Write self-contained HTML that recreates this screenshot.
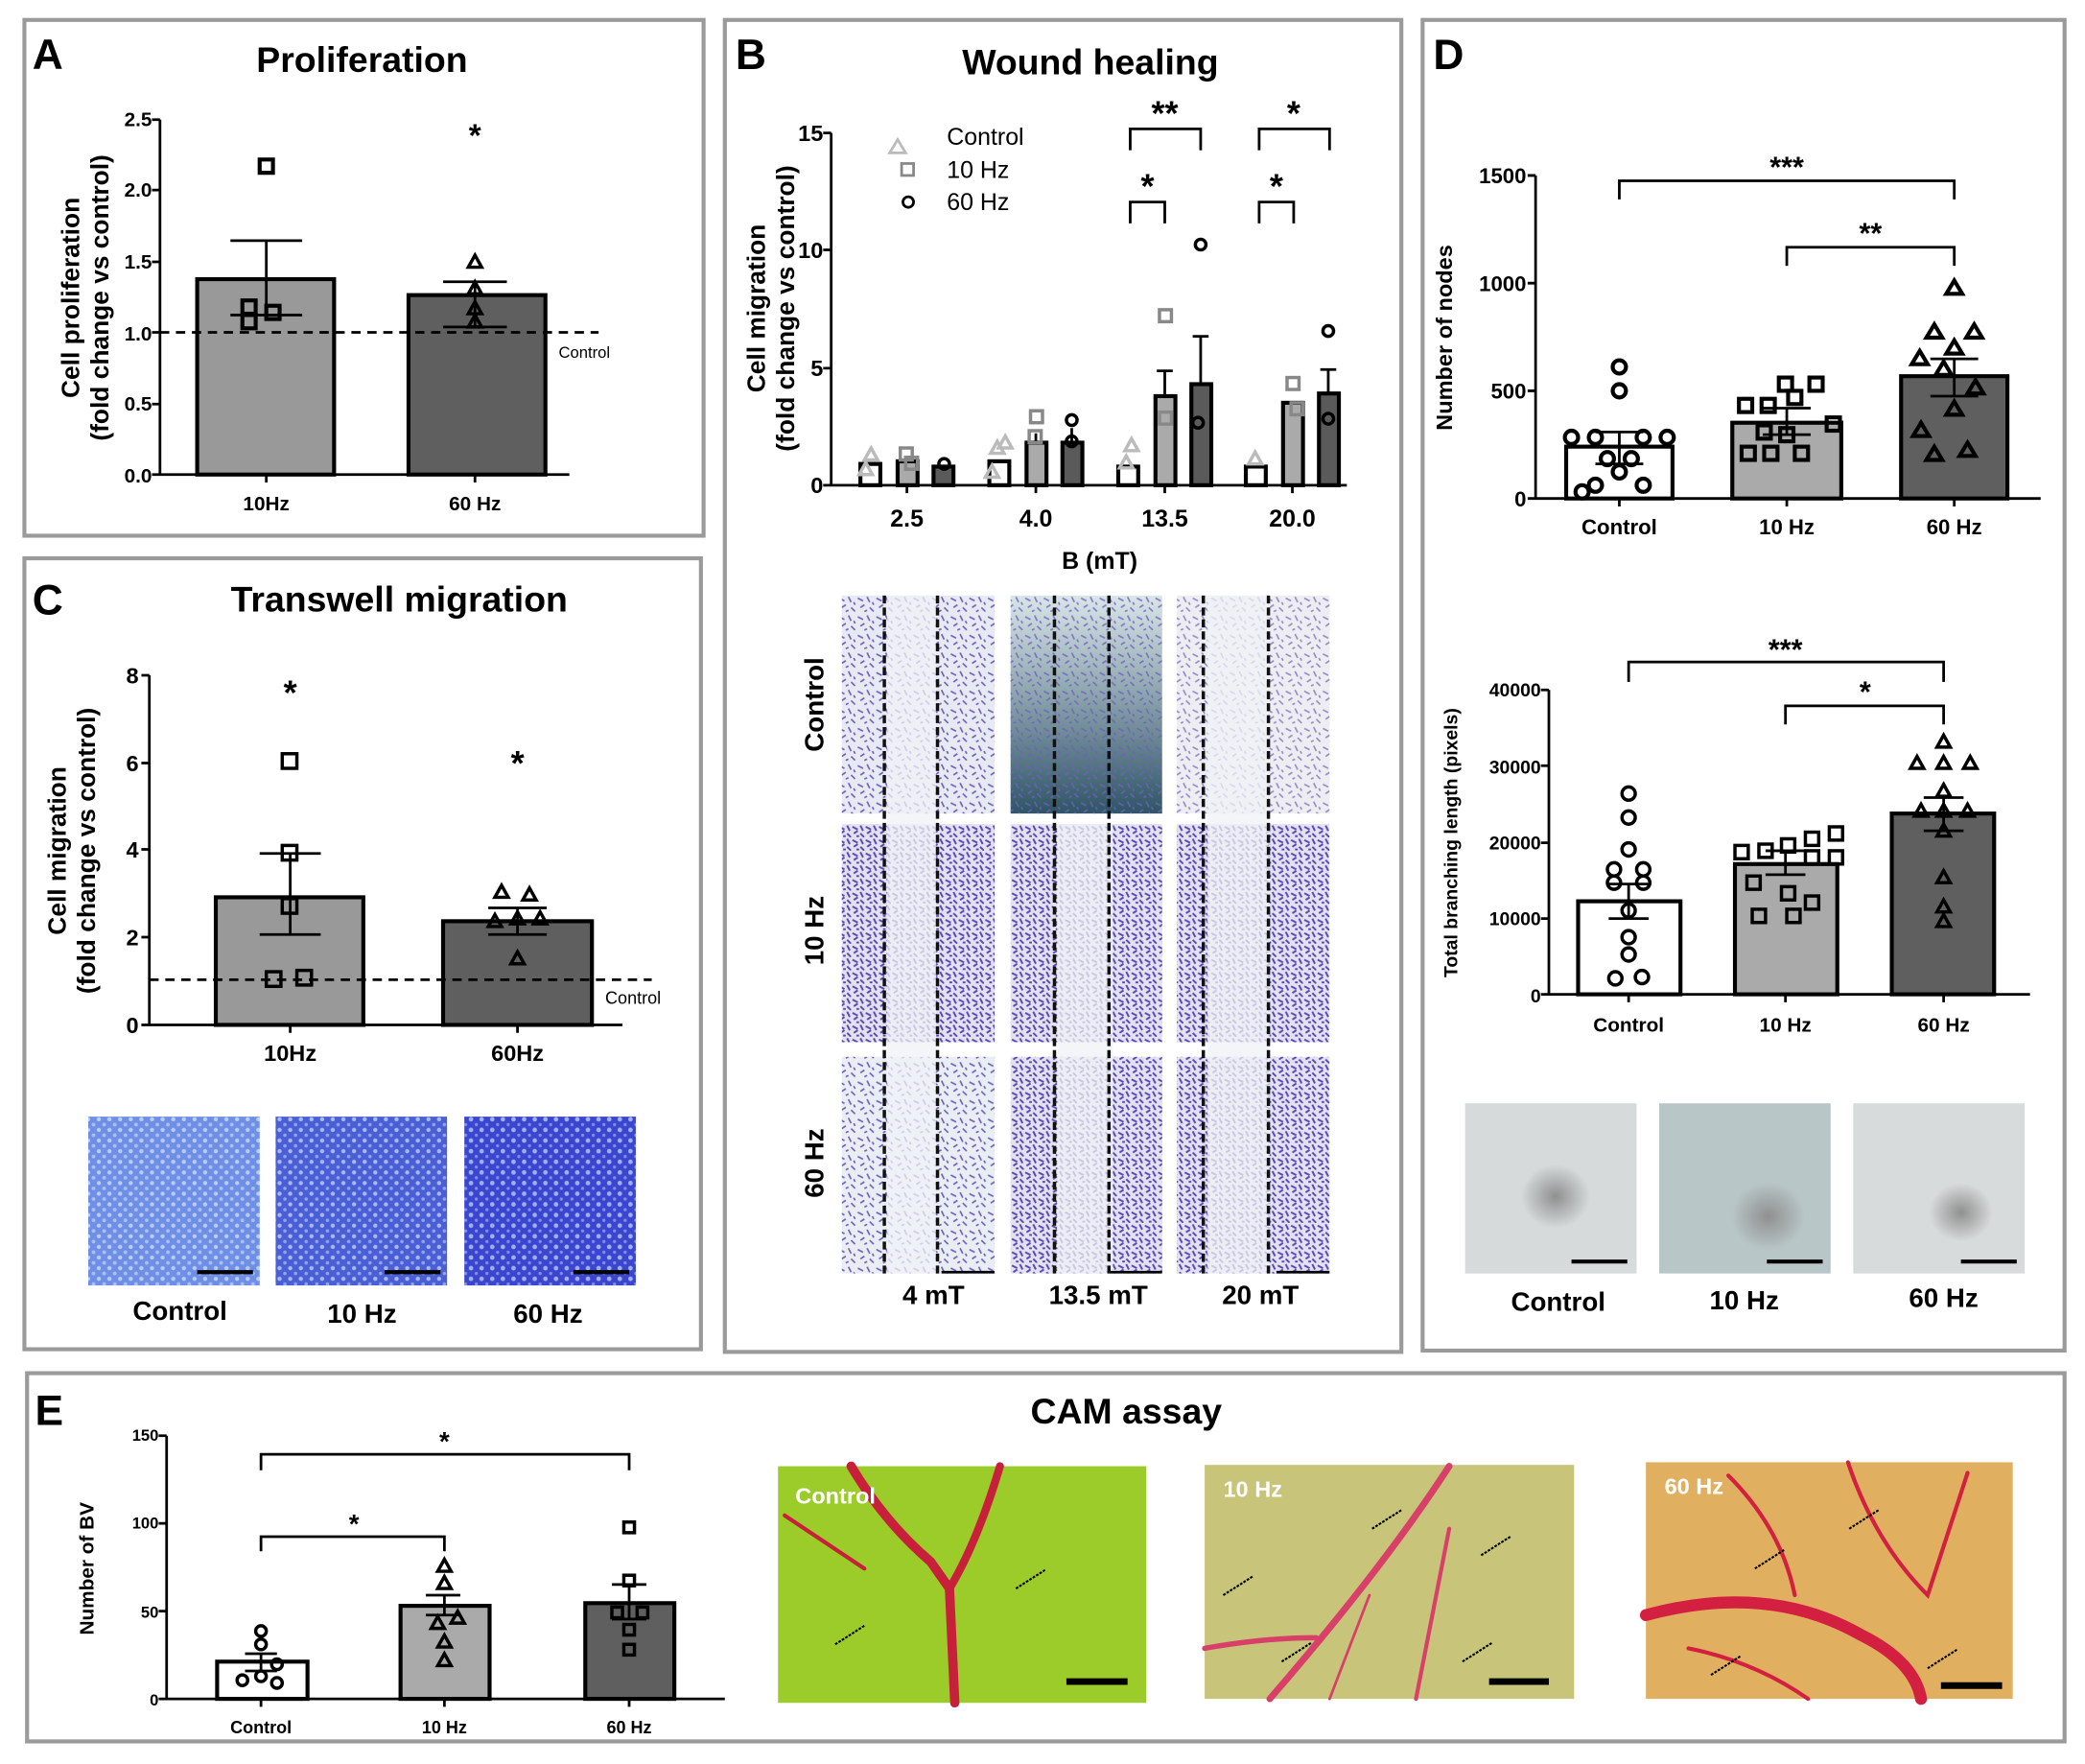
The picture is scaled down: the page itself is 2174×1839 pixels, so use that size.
<!DOCTYPE html>
<html><head><meta charset="utf-8"><style>
html,body{margin:0;padding:0;background:#fff}
svg{display:block}
text{font-family:"Liberation Sans",sans-serif}
</style></head><body>
<svg width="2174" height="1839" viewBox="0 0 1568 1327" xmlns="http://www.w3.org/2000/svg">
<defs>
<pattern id="cells" width="14" height="14" patternUnits="userSpaceOnUse">
<path d="M1 2l4 2M8 1l2 4M3 9l3-2M10 9l3 3M6 12l2-1M12 5l1 2" stroke="#6f5fc0" stroke-width="1.2"/>
</pattern>
<pattern id="cellsD" width="10" height="10" patternUnits="userSpaceOnUse">
<path d="M1 2l4 2M7 1l2 4M2 7l3-2M7 7l3 3M4 9l2 0" stroke="#5a46b8" stroke-width="1.4"/>
</pattern>
<pattern id="tw" width="8" height="8" patternUnits="userSpaceOnUse">
<rect width="8" height="8" fill="#6f8fe6"/><circle cx="2" cy="2" r="1.6" fill="#b8ccf6"/><circle cx="6" cy="6" r="1.4" fill="#a9c0f2"/>
</pattern>
<pattern id="tw2" width="8" height="8" patternUnits="userSpaceOnUse">
<rect width="8" height="8" fill="#4a5ed6"/><circle cx="2" cy="2" r="1.6" fill="#a9b8f0"/><circle cx="6" cy="6" r="1.3" fill="#8fa4ea"/>
</pattern>
<pattern id="tw3" width="8" height="8" patternUnits="userSpaceOnUse">
<rect width="8" height="8" fill="#3b45d0"/><circle cx="2" cy="2" r="1.7" fill="#9fb0ee"/><circle cx="6" cy="6" r="1.2" fill="#7f8fe6"/>
</pattern>
<radialGradient id="spot"><stop offset="0" stop-color="#8f9090"/><stop offset="1" stop-color="#8f9090" stop-opacity="0"/></radialGradient>
<linearGradient id="tealg" x1="0" y1="0" x2="0" y2="1"><stop offset="0" stop-color="#d9e6e8"/><stop offset="1" stop-color="#2f5566"/></linearGradient>
</defs>
<g fill="none" stroke="#9a9a9a" stroke-width="3">
<rect x="18" y="15" width="511" height="388"/>
<rect x="545" y="15" width="509" height="1002"/>
<rect x="18" y="420" width="509" height="595"/>
<rect x="1070" y="15" width="483" height="1001"/>
<rect x="20" y="1033" width="1533" height="277"/>
</g>

<!-- PANEL A -->
<text x="24" y="52" font-size="32" font-weight="bold">A</text>
<text x="272" y="54" font-size="27" font-weight="bold" text-anchor="middle">Proliferation</text>
<g font-size="15" font-weight="bold" text-anchor="end">
<text x="114" y="95">2.5</text><text x="114" y="148">2.0</text><text x="114" y="202">1.5</text><text x="114" y="256">1.0</text><text x="114" y="309">0.5</text><text x="114" y="363">0.0</text>
</g>
<g transform="translate(68,224) rotate(-90)" font-size="19" font-weight="bold" text-anchor="middle"><text y="-9">Cell proliferation</text><text y="13">(fold change vs control)</text></g>
<rect x="148" y="210" width="103" height="147" fill="#999" stroke="#000" stroke-width="3"/>
<rect x="307" y="222" width="103" height="135" fill="#5f5f5f" stroke="#000" stroke-width="3"/>
<g stroke="#000" stroke-width="2" fill="none">
<path d="M120 90V357H428M114 90h6M114 143h6M114 197h6M114 250h6M114 304h6M114 357h6M200 357v6M357 357v6"/>
<path d="M200 181v56M173 181h54M173 237h54M357 212v34M333 212h48M333 246h48"/>
<rect x="195" y="120" width="10" height="10" stroke-width="3"/>
<rect x="182" y="226" width="10" height="10" stroke-width="3"/><rect x="200" y="230" width="10" height="10" stroke-width="3"/><rect x="182" y="237" width="10" height="10" stroke-width="3"/>
<path d="M357 192l5 9h-10z M357 212l5 9h-10z M357 227l5 9h-10z M357 237l5 9h-10z" stroke-width="2.5"/>
</g>
<path d="M120 250H450" stroke="#000" stroke-width="2" stroke-dasharray="7 5"/>
<text x="420" y="269" font-size="12">Control</text>
<text x="357" y="110" font-size="24" font-weight="bold" text-anchor="middle">*</text>
<g font-size="15" font-weight="bold" text-anchor="middle"><text x="200" y="384">10Hz</text><text x="357" y="384">60 Hz</text></g>

<!-- PANEL C -->
<text x="24" y="462" font-size="32" font-weight="bold">C</text>
<text x="300" y="460" font-size="27" font-weight="bold" text-anchor="middle">Transwell migration</text>
<g font-size="17" font-weight="bold" text-anchor="end">
<text x="104" y="514">8</text><text x="104" y="580">6</text><text x="104" y="645">4</text><text x="104" y="711">2</text><text x="104" y="777">0</text>
</g>
<g transform="translate(58,640) rotate(-90)" font-size="19" font-weight="bold" text-anchor="middle"><text y="-9">Cell migration</text><text y="13">(fold change vs control)</text></g>
<rect x="162" y="675" width="111" height="96" fill="#999" stroke="#000" stroke-width="3"/>
<rect x="333" y="693" width="112" height="78" fill="#5f5f5f" stroke="#000" stroke-width="3"/>
<g stroke="#000" stroke-width="2" fill="none">
<path d="M112 508V771H468M106 508h6M106 574h6M106 639h6M106 705h6M106 771h6M218 771v6M389 771v6"/>
<path d="M218 642v61M195 642h46M195 703h46M389 683v20M367 683h44M367 703h44"/>
<g stroke-width="2.5"><rect x="212" y="567" width="11" height="11"/><rect x="212" y="636" width="11" height="11"/><rect x="212" y="676" width="11" height="11"/><rect x="200" y="731" width="11" height="11"/><rect x="223" y="730" width="11" height="11"/>
<path d="M377 666l5 9h-10zM398 668l5 9h-10zM389 686l5 9h-10zM372 688l5 9h-10zM406 686l5 9h-10zM389 716l5 9h-10z"/></g>
</g>
<path d="M112 737H490" stroke="#000" stroke-width="2" stroke-dasharray="7 5"/>
<text x="455" y="755" font-size="13">Control</text>
<g font-size="26" font-weight="bold" text-anchor="middle"><text x="218" y="530">*</text><text x="389" y="583">*</text></g>
<g font-size="17" font-weight="bold" text-anchor="middle"><text x="218" y="798">10Hz</text><text x="389" y="798">60Hz</text></g>
<rect x="66" y="840" width="129" height="127" fill="url(#tw)"/>
<rect x="207" y="840" width="129" height="127" fill="url(#tw2)"/>
<rect x="349" y="840" width="129" height="127" fill="url(#tw3)"/>
<g stroke="#000" stroke-width="3"><path d="M148 957h42M289 957h42M431 957h42"/></g>
<g font-size="20" font-weight="bold" text-anchor="middle"><text x="135" y="993">Control</text><text x="272" y="995">10 Hz</text><text x="412" y="995">60 Hz</text></g>

<!-- PANEL B -->
<text x="553" y="52" font-size="32" font-weight="bold">B</text>
<text x="820" y="56" font-size="27" font-weight="bold" text-anchor="middle">Wound healing</text>
<g font-size="17" font-weight="bold" text-anchor="end">
<text x="619" y="106">15</text><text x="619" y="194">10</text><text x="619" y="283">5</text><text x="619" y="371">0</text>
</g>
<g transform="translate(584,232) rotate(-90)" font-size="19" font-weight="bold" text-anchor="middle"><text y="-9">Cell migration</text><text y="13">(fold change vs control)</text></g>
<g stroke="#000" stroke-width="3">
<rect x="647" y="349" width="15" height="16" fill="#fff"/><rect x="675" y="347" width="15" height="18" fill="#aaa"/><rect x="702" y="351" width="15" height="14" fill="#5a5a5a"/>
<rect x="744" y="347" width="15" height="18" fill="#fff"/><rect x="772" y="333" width="15" height="32" fill="#aaa"/><rect x="799" y="333" width="15" height="32" fill="#5a5a5a"/>
<rect x="841" y="351" width="15" height="14" fill="#fff"/><rect x="869" y="298" width="15" height="67" fill="#aaa"/><rect x="896" y="289" width="15" height="76" fill="#5a5a5a"/>
<rect x="937" y="351" width="15" height="14" fill="#fff"/><rect x="965" y="303" width="15" height="62" fill="#aaa"/><rect x="992" y="296" width="15" height="69" fill="#5a5a5a"/>
</g>
<g stroke="#000" stroke-width="2" fill="none">
<path d="M625 100V365H1013M619 100h6M619 188h6M619 277h6M619 365h6M682 365v6M779 365v6M876 365v6M972 365v6"/>
<path d="M876 279v19M870 279h12M903 253v36M897 253h12M999 278v18M993 278h12M806 322v11M779 326v7"/>
<path d="M850 113V97H903V113M850 168V152H876V168M947 113V97H1000V113M947 168V152H973V168"/>
</g>
<g fill="none" stroke-width="2.5">
<g stroke="#bbb"><path d="M655 337l5 9h-10zM651 348l5 9h-10zM750 332l5 9h-10zM756 328l5 9h-10zM746 350l5 9h-10zM851 330l5 9h-10zM847 343l5 9h-10zM944 340l5 9h-10z"/>
<path d="M675 105l6 10h-12z" stroke-width="2"/></g>
<g stroke="#888"><rect x="677" y="337" width="9" height="9"/><rect x="681" y="344" width="9" height="9"/><rect x="775" y="309" width="9" height="9"/><rect x="774" y="324" width="9" height="9"/><rect x="872" y="233" width="9" height="9"/><rect x="872" y="310" width="9" height="9"/><rect x="968" y="284" width="9" height="9"/><rect x="971" y="303" width="9" height="9"/><rect x="678" y="123" width="9" height="9" stroke-width="2"/></g>
<g stroke="#000"><circle cx="710" cy="349" r="4"/><circle cx="806" cy="316" r="4"/><circle cx="806" cy="332" r="4"/><circle cx="903" cy="184" r="4"/><circle cx="901" cy="318" r="4"/><circle cx="999" cy="249" r="4"/><circle cx="999" cy="315" r="4"/><circle cx="683" cy="152" r="4" stroke-width="2"/></g>
</g>
<g font-size="18"><text x="712" y="109">Control</text><text x="712" y="134">10 Hz</text><text x="712" y="158">60 Hz</text></g>
<g font-size="26" font-weight="bold" text-anchor="middle"><text x="876" y="94">**</text><text x="863" y="149">*</text><text x="973" y="94">*</text><text x="960" y="149">*</text></g>
<g font-size="18" font-weight="bold" text-anchor="middle"><text x="682" y="396">2.5</text><text x="779" y="396">4.0</text><text x="876" y="396">13.5</text><text x="972" y="396">20.0</text><text x="827" y="428">B (mT)</text></g>
<g>
<rect x="633" y="448" width="115" height="164" fill="#e8eaf3"/><rect x="633" y="448" width="115" height="164" fill="url(#cells)"/>
<rect x="885" y="448" width="115" height="164" fill="#eeeef2"/><rect x="885" y="448" width="115" height="164" fill="url(#cells)" opacity=".7"/>
<rect x="633" y="620" width="115" height="164" fill="#e2e2f0"/><rect x="633" y="620" width="115" height="164" fill="url(#cellsD)"/>
<rect x="760" y="620" width="114" height="164" fill="#e2e2f0"/><rect x="760" y="620" width="114" height="164" fill="url(#cellsD)"/>
<rect x="885" y="620" width="115" height="164" fill="#e2e2f0"/><rect x="885" y="620" width="115" height="164" fill="url(#cellsD)"/>
<rect x="633" y="795" width="115" height="163" fill="#e8eef3"/><rect x="633" y="795" width="115" height="163" fill="url(#cells)"/>
<rect x="760" y="795" width="114" height="163" fill="#e2e2f0"/><rect x="760" y="795" width="114" height="163" fill="url(#cellsD)"/>
<rect x="885" y="795" width="115" height="163" fill="#e2e2f0"/><rect x="885" y="795" width="115" height="163" fill="url(#cellsD)"/>
<g fill="#f0f2f6" opacity=".75"><rect x="667" y="448" width="37" height="510"/><rect x="795" y="620" width="42" height="338"/><rect x="908" y="448" width="47" height="510"/></g>
<rect x="760" y="448" width="114" height="164" fill="url(#tealg)"/><rect x="760" y="448" width="114" height="164" fill="url(#cells)" opacity=".8"/>
<g stroke="#111" stroke-width="2.5" stroke-dasharray="6 3"><path d="M665 448V958M705 448V958M793 448V958M834 448V958M905 448V958M954 448V958"/></g>
<g stroke="#000" stroke-width="2"><path d="M708 957h40M835 957h39M960 957h40"/></g>
</g>
<g font-size="20" font-weight="bold" text-anchor="middle">
<text transform="translate(619,530) rotate(-90)">Control</text><text transform="translate(619,700) rotate(-90)">10 Hz</text><text transform="translate(619,875) rotate(-90)">60 Hz</text>
<text x="702" y="981">4 mT</text><text x="826" y="981">13.5 mT</text><text x="948" y="981">20 mT</text></g>

<!-- PANEL D -->
<text x="1078" y="52" font-size="32" font-weight="bold">D</text>
<g font-size="16" font-weight="bold" text-anchor="end">
<text x="1148" y="138">1500</text><text x="1148" y="219">1000</text><text x="1148" y="300">500</text><text x="1148" y="381">0</text>
</g>
<text transform="translate(1092,254) rotate(-90)" font-size="17" font-weight="bold" text-anchor="middle">Number of nodes</text>
<rect x="1178" y="336" width="80" height="39" fill="#fff" stroke="#000" stroke-width="3"/>
<rect x="1303" y="318" width="82" height="57" fill="#aaa" stroke="#000" stroke-width="3"/>
<rect x="1430" y="283" width="80" height="92" fill="#5f5f5f" stroke="#000" stroke-width="3"/>
<g stroke="#000" stroke-width="2" fill="none">
<path d="M1155 132V375H1535M1149 132h6M1149 213h6M1149 294h6M1149 375h6M1218 375v6M1344 375v6M1470 375v6"/>
<path d="M1218 150V136H1470V150M1344 200V186H1470V200"/>
<path d="M1218 325v24M1200 325h36M1200 349h36M1344 307v20M1326 307h36M1326 327h36M1470 270v28M1452 270h36M1452 298h36"/>
<g stroke-width="3"><circle cx="1218" cy="276" r="5"/><circle cx="1218" cy="294" r="5"/><circle cx="1182" cy="329" r="5"/><circle cx="1200" cy="329" r="5"/><circle cx="1236" cy="329" r="5"/><circle cx="1254" cy="329" r="5"/><circle cx="1209" cy="345" r="5"/><circle cx="1227" cy="345" r="5"/><circle cx="1218" cy="355" r="5"/><circle cx="1200" cy="365" r="5"/><circle cx="1236" cy="365" r="5"/><circle cx="1190" cy="370" r="5"/>
<rect x="1338" y="284" width="10" height="10"/><rect x="1361" y="284" width="10" height="10"/><rect x="1308" y="300" width="10" height="10"/><rect x="1325" y="300" width="10" height="10"/><rect x="1345" y="294" width="10" height="10"/><rect x="1374" y="314" width="10" height="10"/><rect x="1322" y="320" width="10" height="10"/><rect x="1339" y="322" width="10" height="10"/><rect x="1310" y="336" width="10" height="10"/><rect x="1327" y="336" width="10" height="10"/><rect x="1350" y="336" width="10" height="10"/>
<path d="M1470 211l6 10h-12zM1455 244l6 10h-12zM1485 244l6 10h-12zM1470 256l6 10h-12zM1444 264l6 10h-12zM1462 272l6 10h-12zM1486 286l6 10h-12zM1470 302l6 10h-12zM1445 318l6 10h-12zM1455 336l6 10h-12zM1480 333l6 10h-12z"/></g>
</g>
<g font-size="22" font-weight="bold" text-anchor="middle"><text x="1344" y="133">***</text><text x="1407" y="183">**</text></g>
<g font-size="16" font-weight="bold" text-anchor="middle"><text x="1218" y="402">Control</text><text x="1344" y="402">10 Hz</text><text x="1470" y="402">60 Hz</text></g>

<g font-size="14" font-weight="bold" text-anchor="end">
<text x="1159" y="524">40000</text><text x="1159" y="582">30000</text><text x="1159" y="639">20000</text><text x="1159" y="696">10000</text><text x="1159" y="754">0</text>
</g>
<text transform="translate(1096,634) rotate(-90)" font-size="14" font-weight="bold" text-anchor="middle">Total branching length (pixels)</text>
<rect x="1187" y="678" width="77" height="70" fill="#fff" stroke="#000" stroke-width="3"/>
<rect x="1305" y="650" width="77" height="98" fill="#aaa" stroke="#000" stroke-width="3"/>
<rect x="1423" y="612" width="77" height="136" fill="#5f5f5f" stroke="#000" stroke-width="3"/>
<g stroke="#000" stroke-width="2" fill="none">
<path d="M1165 519V748H1527M1159 519h6M1159 576h6M1159 634h6M1159 691h6M1159 748h6M1225 748v6M1343 748v6M1462 748v6"/>
<path d="M1225 513V498H1462V513M1343 545V531H1462V545"/>
<path d="M1225 665v26M1210 665h30M1210 691h30M1343 640v18M1328 640h30M1328 658h30M1462 600v25M1447 600h30M1447 625h30"/>
<g stroke-width="2.5"><circle cx="1225" cy="597" r="5"/><circle cx="1225" cy="615" r="5"/><circle cx="1225" cy="639" r="5"/><circle cx="1214" cy="654" r="5"/><circle cx="1236" cy="654" r="5"/><circle cx="1214" cy="664" r="5"/><circle cx="1236" cy="664" r="5"/><circle cx="1225" cy="685" r="5"/><circle cx="1225" cy="705" r="5"/><circle cx="1225" cy="718" r="5"/><circle cx="1215" cy="736" r="5"/><circle cx="1235" cy="735" r="5"/>
<rect x="1305" y="636" width="10" height="10"/><rect x="1323" y="635" width="10" height="10"/><rect x="1340" y="631" width="10" height="10"/><rect x="1358" y="626" width="10" height="10"/><rect x="1376" y="622" width="10" height="10"/><rect x="1358" y="640" width="10" height="10"/><rect x="1376" y="640" width="10" height="10"/><rect x="1314" y="659" width="10" height="10"/><rect x="1340" y="667" width="10" height="10"/><rect x="1358" y="674" width="10" height="10"/><rect x="1318" y="684" width="10" height="10"/><rect x="1344" y="684" width="10" height="10"/>
<path d="M1462 553l5 9h-10zM1442 569l5 9h-10zM1462 569l5 9h-10zM1482 569l5 9h-10zM1462 590l5 9h-10zM1445 605l5 9h-10zM1462 605l5 9h-10zM1480 605l5 9h-10zM1462 620l5 9h-10zM1462 655l5 9h-10zM1462 677l5 9h-10zM1462 688l5 9h-10z"/></g>
</g>
<g font-size="22" font-weight="bold" text-anchor="middle"><text x="1343" y="496">***</text><text x="1403" y="528">*</text></g>
<g font-size="15" font-weight="bold" text-anchor="middle"><text x="1225" y="776">Control</text><text x="1343" y="776">10 Hz</text><text x="1462" y="776">60 Hz</text></g>
<rect x="1102" y="830" width="129" height="128" fill="#d6dadb"/><ellipse cx="1170" cy="900" rx="26" ry="24" fill="url(#spot)"/>
<rect x="1248" y="830" width="129" height="128" fill="#b9c6c8"/><ellipse cx="1330" cy="915" rx="28" ry="26" fill="url(#spot)"/>
<rect x="1394" y="830" width="129" height="128" fill="#d8dbdb"/><ellipse cx="1475" cy="912" rx="24" ry="22" fill="url(#spot)"/>
<g stroke="#000" stroke-width="3"><path d="M1182 949h42M1329 949h42M1475 949h42"/></g>
<g font-size="20" font-weight="bold" text-anchor="middle"><text x="1172" y="986">Control</text><text x="1312" y="985">10 Hz</text><text x="1462" y="983">60 Hz</text></g>

<!-- PANEL E -->
<text x="26" y="1072" font-size="32" font-weight="bold">E</text>
<text x="847" y="1071" font-size="27" font-weight="bold" text-anchor="middle">CAM assay</text>
<g font-size="12" font-weight="bold" text-anchor="end">
<text x="119" y="1084">150</text><text x="119" y="1150">100</text><text x="119" y="1217">50</text><text x="119" y="1283">0</text>
</g>
<text transform="translate(70,1180) rotate(-90)" font-size="15" font-weight="bold" text-anchor="middle">Number of BV</text>
<rect x="163" y="1250" width="68" height="28" fill="#fff" stroke="#000" stroke-width="3"/>
<rect x="301" y="1208" width="67" height="70" fill="#aaa" stroke="#000" stroke-width="3"/>
<rect x="440" y="1206" width="67" height="72" fill="#5f5f5f" stroke="#000" stroke-width="3"/>
<g stroke="#000" stroke-width="2" fill="none">
<path d="M125 1080V1278H545M119 1080h6M119 1146h6M119 1212h6M119 1278h6M196 1278v6M334 1278v6M473 1278v6"/>
<path d="M196 1106V1094H473V1106M196 1167V1156H334V1167"/>
<path d="M196 1244v13M184 1244h24M184 1257h24M334 1200v15M320 1200h26M320 1215h26M473 1192v26M460 1192h26M460 1218h26"/>
<g stroke-width="2.5"><circle cx="196" cy="1227" r="4"/><circle cx="196" cy="1237" r="4"/><circle cx="182" cy="1264" r="4"/><circle cx="196" cy="1261" r="4"/><circle cx="208" cy="1252" r="4"/><circle cx="208" cy="1266" r="4"/>
<path d="M334 1173l5 9h-10zM334 1186l5 9h-10zM344 1212l5 9h-10zM329 1216l5 9h-10zM334 1230l5 9h-10zM334 1244l5 9h-10z"/>
<rect x="469" y="1145" width="8" height="8"/><rect x="469" y="1185" width="8" height="8"/><rect x="460" y="1209" width="8" height="8"/><rect x="479" y="1209" width="8" height="8"/><rect x="469" y="1222" width="8" height="8"/><rect x="469" y="1237" width="8" height="8"/></g>
</g>
<g font-size="20" font-weight="bold" text-anchor="middle"><text x="334" y="1091">*</text><text x="266" y="1153">*</text></g>
<g font-size="13" font-weight="bold" text-anchor="middle"><text x="196" y="1304">Control</text><text x="334" y="1304">10 Hz</text><text x="473" y="1304">60 Hz</text></g>

<rect x="585" y="1103" width="277" height="178" fill="#9ccc2a"/>
<g fill="none" stroke="#c8203a" stroke-linecap="round">
<path d="M640 1103 Q665 1145 700 1175 L714 1195 L718 1281" stroke-width="7"/>
<path d="M752 1103 Q735 1160 714 1195" stroke-width="6"/>
<path d="M590 1140 Q620 1160 650 1180" stroke-width="3"/>
</g>
<rect x="906" y="1102" width="278" height="176" fill="#c8c47a"/>
<g fill="none" stroke="#d8406a" stroke-linecap="round">
<path d="M1090 1103 Q1040 1180 955 1278" stroke-width="5"/><path d="M906 1240 Q950 1232 990 1232" stroke-width="4"/><path d="M1090 1150 L1065 1278" stroke-width="3"/><path d="M1030 1200 L1000 1278" stroke-width="2"/></g>
<rect x="1238" y="1100" width="276" height="178" fill="#e0b060"/>
<g fill="none" stroke="#d42040" stroke-linecap="round">
<path d="M1238 1215 Q1330 1190 1400 1230 Q1440 1250 1445 1278" stroke-width="9"/><path d="M1300 1110 Q1340 1150 1350 1200" stroke-width="3"/><path d="M1390 1100 Q1410 1160 1450 1200 L1480 1108" stroke-width="3"/><path d="M1270 1240 Q1320 1250 1360 1278" stroke-width="3"/></g>
<g stroke="#000" stroke-width="1.5" stroke-dasharray="2 1"><path d="M628 1237l22-14M764 1195l22-14M920 1200l22-14M964 1250l22-14M1032 1150l22-14M1100 1250l22-14M1114 1170l22-14M1287 1260l22-14M1320 1180l22-14M1391 1150l22-14M1450 1255l22-14"/></g>
<g stroke="#000" stroke-width="5"><path d="M802 1265h46M1120 1265h45M1460 1268h46"/></g>
<g font-size="17" font-weight="bold" fill="#fff"><text x="598" y="1131">Control</text><text x="920" y="1126">10 Hz</text><text x="1252" y="1124">60 Hz</text></g>
</svg>
</body></html>
